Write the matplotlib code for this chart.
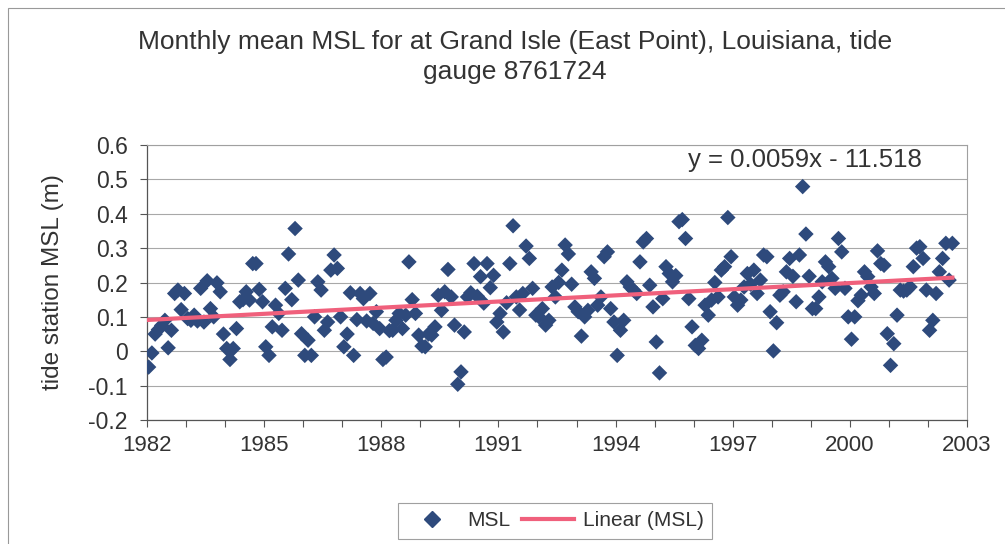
import numpy as np
import matplotlib
matplotlib.use("Agg")
import matplotlib.pyplot as plt
from matplotlib.lines import Line2D
from matplotlib.patches import Rectangle

plt.rcParams["font.family"] = ["Liberation Sans", "DejaVu Sans"]
plt.rcParams["axes.unicode_minus"] = False

# monthly mean sea level (m), Jan 1982 .. Aug 2002
start_year = 1982
msl_1982 = [-0.046, -0.005, 0.05, 0.063, 0.075, 0.09, 0.01, 0.061, 0.168, 0.178, 0.121, 0.168]
msl_1983 = [0.095, 0.09, 0.105, 0.088, 0.183, 0.085, 0.205, 0.124, 0.1, 0.199, 0.173, 0.05]
msl_1984 = [0.008, -0.024, 0.008, 0.066, 0.144, 0.15, 0.173, 0.149, 0.255, 0.255, 0.18, 0.144]
msl_1985 = [0.013, -0.012, 0.071, 0.134, 0.11, 0.061, 0.183, 0.283, 0.15, 0.357, 0.207, 0.051]
msl_1986 = [-0.012, 0.032, -0.012, 0.1, 0.202, 0.178, 0.061, 0.085, 0.236, 0.28, 0.241, 0.1]
msl_1987 = [0.013, 0.05, 0.17, -0.012, 0.092, 0.168, 0.153, 0.088, 0.168, 0.081, 0.115, 0.066]
msl_1988 = [-0.024, -0.017, 0.06, 0.061, 0.09, 0.11, 0.066, 0.105, 0.26, 0.15, 0.11, 0.047]
msl_1989 = [0.015, 0.013, 0.05, 0.047, 0.071, 0.163, 0.119, 0.173, 0.238, 0.158, 0.076, -0.096]
msl_1990 = [-0.06, 0.056, 0.158, 0.17, 0.255, 0.16, 0.217, 0.14, 0.255, 0.185, 0.221, 0.085]
msl_1991 = [0.11, 0.056, 0.141, 0.255, 0.365, 0.158, 0.12, 0.168, 0.306, 0.27, 0.183, 0.105]
msl_1992 = [0.1, 0.124, 0.076, 0.09, 0.187, 0.158, 0.2, 0.236, 0.309, 0.283, 0.195, 0.129]
msl_1993 = [0.115, 0.044, 0.1, 0.119, 0.231, 0.212, 0.134, 0.158, 0.275, 0.289, 0.124, 0.085]
msl_1994 = [-0.012, 0.061, 0.09, 0.202, 0.187, 0.178, 0.168, 0.26, 0.318, 0.328, 0.192, 0.129]
msl_1995 = [0.027, -0.063, 0.153, 0.246, 0.226, 0.202, 0.22, 0.377, 0.383, 0.328, 0.153, 0.071]
msl_1996 = [0.017, 0.008, 0.032, 0.134, 0.105, 0.149, 0.2, 0.158, 0.236, 0.246, 0.389, 0.275]
msl_1997 = [0.158, 0.134, 0.149, 0.187, 0.226, 0.195, 0.236, 0.168, 0.207, 0.28, 0.275, 0.115]
msl_1998 = [0.001, 0.083, 0.163, 0.173, 0.231, 0.27, 0.218, 0.144, 0.28, 0.479, 0.341, 0.218]
msl_1999 = [0.124, 0.124, 0.158, 0.202, 0.26, 0.246, 0.212, 0.183, 0.328, 0.289, 0.183, 0.1]
msl_2000 = [0.035, 0.1, 0.147, 0.163, 0.231, 0.217, 0.187, 0.168, 0.292, 0.255, 0.25, 0.051]
msl_2001 = [-0.041, 0.022, 0.105, 0.178, 0.175, 0.178, 0.187, 0.246, 0.3, 0.304, 0.27, 0.178]
msl_2002 = [0.061, 0.09, 0.168, 0.231, 0.27, 0.314, 0.207, 0.314]

title_lines = ["Monthly mean MSL for at Grand Isle (East Point), Louisiana, tide",
               "gauge 8761724"]
equation_text = "y = 0.0059x - 11.518"
year_ticks = list(range(1982, 2004))
y_ticks = [-0.2, -0.1, 0, 0.1, 0.2, 0.3, 0.4, 0.5, 0.6]

msl = np.array(msl_1982 + msl_1983 + msl_1984 + msl_1985 + msl_1986 + msl_1987
               + msl_1988 + msl_1989 + msl_1990 + msl_1991 + msl_1992 + msl_1993
               + msl_1994 + msl_1995 + msl_1996 + msl_1997 + msl_1998 + msl_1999
               + msl_2000 + msl_2001 + msl_2002)
t = start_year + (np.arange(len(msl)) + 0.5) / 12

# linear trend (Excel style trendline over the data range)
slope, intercept = np.polyfit(t, msl, 1)
t_fit = np.array([t.min(), t.max()])

W, H = 1005, 544
fig = plt.figure(figsize=(W / 100, H / 100), dpi=100)
ax = fig.add_axes([147 / W, 1 - 420 / H, 820 / W, 275 / H])

ax.scatter(t, msl, marker="D", s=62, color="#2e4a7c", edgecolors="none", zorder=3)
ax.plot(t_fit, slope * t_fit + intercept, color="#f0607c", lw=3, zorder=4)

ax.set_xlim(1982, 2003)
ax.set_ylim(-0.2, 0.6)
ax.set_xticks(year_ticks)
ax.set_xticklabels([str(y) if (y - 1982) % 3 == 0 else "" for y in year_ticks])
ax.set_yticks(y_ticks)
ax.set_yticklabels(["0" if v == 0 else f"{v:.1f}" for v in y_ticks])
ax.tick_params(direction="out", length=5, width=0.8, color="#555555",
               labelsize=16, labelcolor="#333333")
ax.tick_params(axis="x", pad=6)
ax.tick_params(axis="y", pad=9, labelsize=16.5)
ax.yaxis.grid(True, color="#a8a8a8", lw=0.8)
ax.set_axisbelow(True)
for side in ["left", "bottom"]:
    ax.spines[side].set_color("#555555")
    ax.spines[side].set_linewidth(0.9)
for side in ["top", "right"]:
    ax.spines[side].set_color("#a0a0a0")
    ax.spines[side].set_linewidth(0.8)

fig.text(53 / W, 1 - 282 / H, "tide station MSL (m)", rotation=90,
         ha="center", va="center", fontsize=17.5, color="#333333")
fig.text(515 / W, 1 - 42 / H, title_lines[0], ha="center", va="center",
         fontsize=19, color="#333333")
fig.text(515 / W, 1 - 72 / H, title_lines[1], ha="center", va="center",
         fontsize=19, color="#333333")
fig.text(805 / W, 1 - 160 / H, equation_text, ha="center", va="center",
         fontsize=18.5, color="#333333")

handles = [Line2D([], [], marker="D", ls="none", color="#2e4a7c", markersize=8),
           Line2D([], [], color="#f0607c", lw=3)]
leg = fig.legend(handles, ["MSL", "Linear (MSL)"], ncol=2, loc="center",
                 bbox_to_anchor=(555 / W, 1 - 521 / H), fontsize=15,
                 frameon=True, fancybox=False, edgecolor="#888888",
                 handlelength=2.5, handletextpad=0.4, columnspacing=0.6,
                 borderpad=0.4)
leg.get_frame().set_linewidth(0.8)
for txt in leg.get_texts():
    txt.set_color("#333333")

# outer chart border
fig.add_artist(Rectangle((8 / W, -0.1), 1.2, (H - 8) / H + 0.1,
                         transform=fig.transFigure, fill=False,
                         edgecolor="#999999", lw=0.8))

fig.savefig("out.png", dpi=100)
